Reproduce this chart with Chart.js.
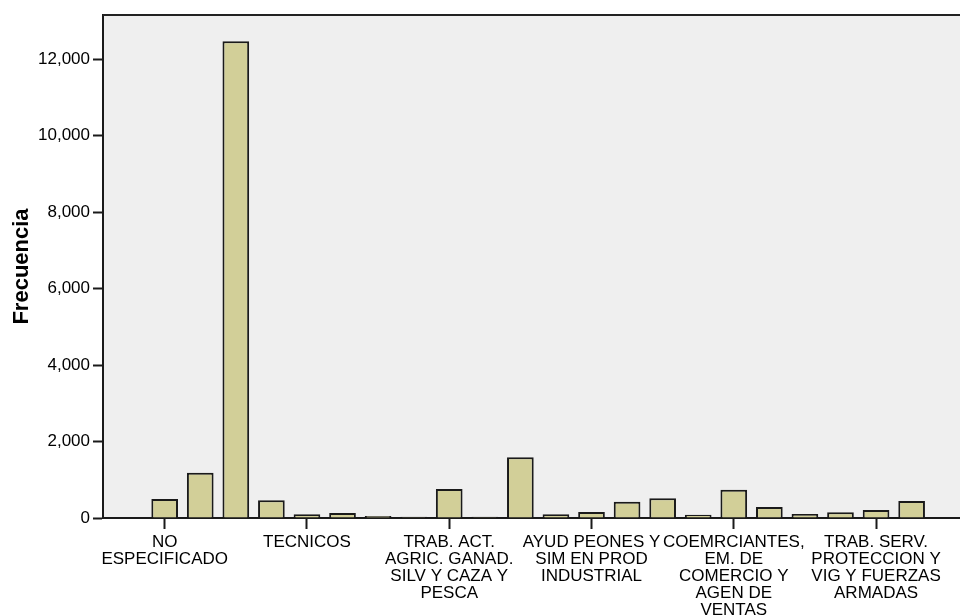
<!DOCTYPE html>
<html>
<head>
<meta charset="utf-8">
<script src="https://cdn.jsdelivr.net/npm/chart.js@4"></script>
<style>
  body { margin: 0; background: #fff; }
</style>
</head>
<body>
<canvas id="myChart" width="960" height="616"></canvas>
<script>
// Frequencies per occupation (22 categories)
var frecuencias = [497, 1185, 12470, 463, 96, 131, 50, 30, 759, 32, 1588, 96, 157, 427, 515, 87, 741, 288, 105, 148, 209, 445];

// Only every 4th category is labelled on the axis
var labelIndex = [0, 4, 8, 12, 16, 20];
var labelText = [
  ['NO', 'ESPECIFICADO'],
  ['TECNICOS'],
  ['TRAB. ACT.', 'AGRIC. GANAD.', 'SILV Y CAZA Y', 'PESCA'],
  ['AYUD PEONES Y', 'SIM EN PROD', 'INDUSTRIAL'],
  ['COEMRCIANTES,', 'EM. DE', 'COMERCIO Y', 'AGEN DE', 'VENTAS'],
  ['TRAB. SERV.', 'PROTECCION Y', 'VIG Y FUERZAS', 'ARMADAS']
];

var yTicks = [0, 2000, 4000, 6000, 8000, 10000, 12000];

var fontFamily = '"Liberation Sans", Arial, Helvetica, sans-serif';

// plot background + top frame line
var plotFrame = {
  id: 'plotFrame',
  beforeDraw: function(chart) {
    var a = chart.chartArea, ctx = chart.ctx;
    ctx.save();
    ctx.fillStyle = '#efefef';
    ctx.fillRect(a.left, a.top, a.right - a.left, a.bottom - a.top);
    ctx.restore();
  },
  afterDraw: function(chart) {
    var a = chart.chartArea, ctx = chart.ctx;
    ctx.save();
    ctx.strokeStyle = '#222';
    ctx.lineWidth = 2;
    ctx.beginPath();
    ctx.moveTo(a.left, a.top);
    ctx.lineTo(a.right, a.top);
    ctx.stroke();
    ctx.restore();
  }
};

var data = {
  datasets: [{
    data: frecuencias.map(function(v, i) { return { x: i, y: v }; }),
    backgroundColor: '#d2cf98',
    borderColor: '#1a1a1a',
    borderWidth: 2,
    categoryPercentage: 1,
    barPercentage: 0.75
  }]
};

var config = {
  type: 'bar',
  data: data,
  plugins: [plotFrame],
  options: {
    responsive: false,
    animation: false,
    layout: { padding: { top: 15, right: 0, left: 0, bottom: 0 } },
    plugins: {
      legend: { display: false },
      tooltip: { enabled: false }
    },
    scales: {
      x: {
        type: 'linear',
        offset: false,
        min: -1.734,
        max: 22.36,
        afterBuildTicks: function(scale) {
          scale.ticks = labelIndex.map(function(v) { return { value: v }; });
        },
        afterFit: function(scale) { scale.height = 98; },
        grid: {
          offset: false,
          drawOnChartArea: false,
          drawTicks: true,
          tickLength: 11,
          tickWidth: 2,
          tickColor: '#1a1a1a'
        },
        border: { display: true, color: '#1a1a1a', width: 2 },
        ticks: {
          autoSkip: false,
          maxRotation: 0,
          minRotation: 0,
          padding: 5,
          color: '#000',
          font: { family: fontFamily, size: 17, lineHeight: 1.0 },
          callback: function(value) {
            var k = labelIndex.indexOf(value);
            return k >= 0 ? labelText[k] : '';
          }
        }
      },
      y: {
        min: 0,
        max: 13160,
        afterBuildTicks: function(scale) {
          scale.ticks = yTicks.map(function(v) { return { value: v }; });
        },
        afterFit: function(scale) { scale.width = 103; },
        grid: {
          drawOnChartArea: false,
          drawTicks: true,
          tickLength: 10,
          tickWidth: 2,
          tickColor: '#1a1a1a'
        },
        border: { display: true, color: '#1a1a1a', width: 2 },
        ticks: {
          padding: 3,
          color: '#000',
          font: { family: fontFamily, size: 17 },
          callback: function(value) { return value.toLocaleString('en-US'); }
        },
        title: {
          display: true,
          text: 'Frecuencia',
          color: '#000',
          padding: { top: 9, bottom: 0 },
          font: { family: fontFamily, size: 22, weight: 'bold' }
        }
      }
    }
  }
};

var myChart = new Chart(document.getElementById('myChart').getContext('2d'), config);
</script>
</body>
</html>
